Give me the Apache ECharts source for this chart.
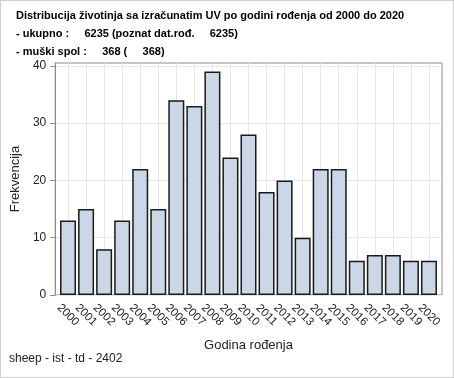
<!DOCTYPE html>
<html>
<head>
<meta charset="utf-8">
<script src="https://cdn.jsdelivr.net/npm/echarts@6/dist/echarts.min.js"></script>
<style>
html, body { margin: 0; padding: 0; background: #fff; }
#chart { width: 454px; height: 378px; box-sizing: border-box; border: 1px solid #cfcfcf; }
</style>
</head>
<body>
<div id="chart"></div>
<script>
var titleLines = [
	'Distribucija životinja sa izračunatim UV po godini rođenja od 2000 do 2020',
	'- ukupno :     6235 (poznat dat.rođ.     6235)',
	'- muški spol :     368 (     368)'
];
var footnote = 'sheep - ist - td - 2402';
var years = ['2000', '2001', '2002', '2003', '2004', '2005', '2006', '2007', '2008', '2009', '2010',
	'2011', '2012', '2013', '2014', '2015', '2016', '2017', '2018', '2019', '2020'];
var counts = [13, 15, 8, 13, 22, 15, 34, 33, 39, 24, 28, 18, 20, 10, 22, 22, 6, 7, 7, 6, 6];
var yTicks = [0, 10, 20, 30, 40];

var myChart = echarts.init(document.getElementById('chart'));

var gridLine = '#e6e6e6';
var frameColor = '#8c8c8c';
var textColor = '#222';

var option = {
	animation: false,
	title: {
		text: titleLines.join('\n'),
		left: 10,
		top: 1,
		textStyle: {
			fontFamily: 'Liberation Sans',
			fontSize: 11,
			fontWeight: 'bold',
			color: '#000',
			lineHeight: 17.8
		}
	},
	graphic: [{
		type: 'text',
		left: 8,
		top: 352,
		style: {
			text: footnote,
			font: '12px "Liberation Sans"',
			fill: textColor
		}
	}],
	grid: [{
		left: 54,
		top: 62,
		width: 387,
		height: 232,
		show: true,
		borderColor: frameColor,
		borderWidth: 1
	}, {
		left: 58,
		top: 62,
		width: 379,
		height: 232
	}],
	xAxis: [{
		type: 'value',
		gridIndex: 0,
		min: 0,
		max: 1,
		show: false
	}, {
		type: 'category',
		gridIndex: 1,
		data: years,
		name: 'Godina rođenja',
		nameLocation: 'middle',
		nameGap: 44,
		nameTextStyle: {
			fontFamily: 'Liberation Sans',
			fontSize: 13,
			color: textColor
		},
		axisLine: { show: false },
		axisTick: {
			alignWithLabel: true,
			length: 5,
			lineStyle: { color: frameColor }
		},
		axisLabel: {
			rotate: -45,
			align: 'center',
			verticalAlign: 'middle',
			margin: 20,
			interval: 0,
			fontFamily: 'Liberation Sans',
			fontSize: 11.5,
			color: textColor
		},
		splitLine: { show: false }
	}],
	yAxis: [{
		type: 'value',
		gridIndex: 0,
		min: 0,
		max: 40.5,
		interval: 10,
		name: 'Frekvencija',
		nameLocation: 'middle',
		nameGap: 31,
		nameTextStyle: {
			fontFamily: 'Liberation Sans',
			fontSize: 13,
			color: textColor
		},
		axisLine: { show: true, lineStyle: { color: frameColor } },
		axisTick: {
			show: true,
			length: 5,
			customValues: yTicks,
			lineStyle: { color: frameColor }
		},
		axisLabel: {
			customValues: yTicks,
			margin: 9,
			fontFamily: 'Liberation Sans',
			fontSize: 12,
			color: textColor
		},
		splitLine: { show: true, lineStyle: { color: gridLine } }
	}, {
		type: 'value',
		gridIndex: 1,
		min: 0,
		max: 40.5,
		show: false
	}],
	series: [{
		type: 'bar',
		xAxisIndex: 1,
		yAxisIndex: 1,
		barWidth: 16,
		data: counts,
		itemStyle: {
			color: '#cbd6e6',
			borderColor: '#1a1a1a',
			borderWidth: 1.5
		},
		markLine: {
			silent: true,
			z: 1,
			symbol: 'none',
			label: { show: false },
			lineStyle: { color: gridLine, type: 'solid', width: 1 },
			data: years.map(function(y) {
				return { xAxis: y };
			})
		}
	}]
};

myChart.setOption(option);
</script>
</body>
</html>
